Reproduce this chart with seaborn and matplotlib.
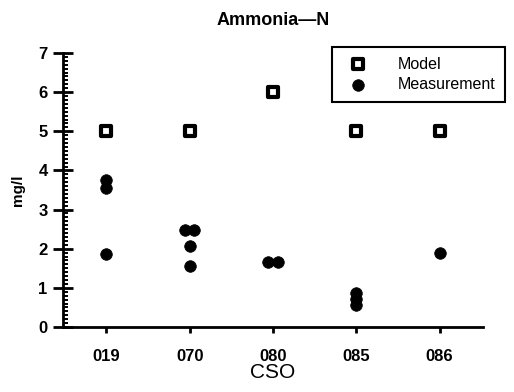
import numpy as np
import pandas as pd
import matplotlib
matplotlib.use("Agg")
import matplotlib.pyplot as plt
from matplotlib.ticker import MultipleLocator
import seaborn as sns

# Ammonia-N concentrations (mg/l) at each CSO outfall
cso_labels = ["019", "070", "080", "085", "086"]
model_values = [5.0, 5.0, 6.0, 5.0, 5.0]
meas_cso = ["019", "019", "019", "070", "070", "070", "070", "080", "080",
            "085", "085", "085", "086"]
meas_values = [3.75, 3.55, 1.87, 2.47, 2.47, 2.07, 1.55, 1.66, 1.66,
               0.88, 0.72, 0.55, 1.9]

sns.set_theme(style="white")
plt.rcParams["font.family"] = ["Liberation Sans", "DejaVu Sans"]
plt.rcParams["text.color"] = "black"
plt.rcParams["axes.labelcolor"] = "black"

cat_index = {c: i for i, c in enumerate(cso_labels)}

model_df = pd.DataFrame({"CSO": cso_labels, "value": model_values})
model_df["x"] = model_df["CSO"].map(cat_index).astype(float)

meas_df = pd.DataFrame({"CSO": meas_cso, "value": meas_values})
meas_df["x"] = meas_df["CSO"].map(cat_index).astype(float)
# identical readings at the same outfall sit side by side
grp = meas_df.groupby(["CSO", "value"])
rank = grp.cumcount()
count = grp["value"].transform("size")
meas_df["x"] = meas_df["x"] + (rank - (count - 1) / 2) * 0.11

fig = plt.figure(figsize=(5.14, 3.92), dpi=100)
ax = fig.add_axes([63 / 514, 1 - 327 / 392, 420 / 514, 274 / 392])

sns.scatterplot(data=model_df, x="x", y="value", ax=ax, marker="s", s=58,
                facecolor="white", edgecolor="black", linewidth=3.0,
                label="Model", zorder=3)
sns.scatterplot(data=meas_df, x="x", y="value", ax=ax, marker="o", s=70,
                color="black", edgecolor="black", linewidth=0.5,
                label="Measurement", zorder=3)

ax.set_xlim(-0.52, 4.52)
ax.set_ylim(0, 7)
ax.set_xticks(range(len(cso_labels)))
ax.set_xticklabels(cso_labels)
ax.yaxis.set_major_locator(MultipleLocator(1))
ax.yaxis.set_minor_locator(MultipleLocator(0.1))

for side in ["top", "right"]:
    ax.spines[side].set_visible(False)
for side in ["left", "bottom"]:
    ax.spines[side].set_linewidth(2.0)
    ax.spines[side].set_color("black")

ax.tick_params(axis="y", which="major", direction="inout", length=14,
               width=2.0, labelsize=12, pad=4, left=True, colors="black")
ax.tick_params(axis="y", which="minor", direction="in", length=3.6,
               width=1.4, left=True, colors="black")
ax.tick_params(axis="x", which="major", direction="out", length=4.5,
               width=2.0, labelsize=12, pad=11.5, bottom=True, colors="black")
for lbl in ax.get_xticklabels() + ax.get_yticklabels():
    lbl.set_fontweight("bold")

ax.set_xlabel("CSO", fontsize=15, labelpad=-1, color="black")
ax.set_ylabel("mg/l", fontsize=11, fontweight="bold", labelpad=10,
              color="black")
ax.set_title("Ammonia\u2014N", fontsize=13, fontweight="bold", pad=20,
             color="black")

leg = ax.legend(loc="upper right", bbox_to_anchor=(505 / 514, 1 - 47 / 392),
                bbox_transform=fig.transFigure, borderaxespad=0,
                fontsize=11.5, frameon=True, fancybox=False, framealpha=1,
                handletextpad=1.5, borderpad=0.6, labelspacing=0.35,
                handlelength=2.0)
leg.get_frame().set_edgecolor("black")
leg.get_frame().set_linewidth(1.5)
for txt in leg.get_texts():
    txt.set_color("black")
leg.set_zorder(5)

fig.savefig("out.png", dpi=100, facecolor="white")
